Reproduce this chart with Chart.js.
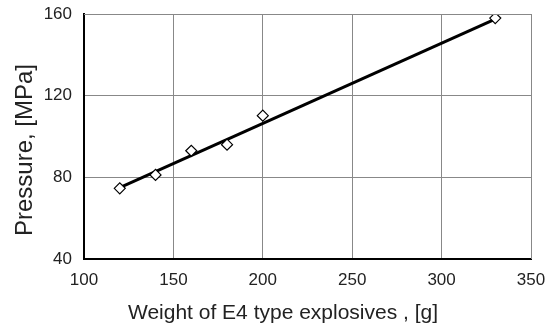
<!DOCTYPE html>
<html>
<head>
<meta charset="utf-8">
<script src="https://cdn.jsdelivr.net/npm/chart.js@4"></script>
<style>
  html, body { margin: 0; padding: 0; background: #fff; }
  #wrap { width: 545px; height: 329px; }
</style>
</head>
<body>
<div id="wrap"><canvas id="chart" width="545" height="329"></canvas></div>
<script>
// measured points (weight in g, pressure in MPa)
const weights = [120, 140, 160, 180, 200, 330];
const pressures = [74.6, 81.2, 93, 96, 110.2, 158];

// linear trend line end points
const trendX = [120, 330];
const trendY = [75, 157.5];

const xTicks = [100, 150, 200, 250, 300, 350];
const yTicks = [40, 80, 120, 160];

const xTitle = 'Weight of E4 type explosives , [g]';
const yTitle = 'Pressure, [MPa]';

const font = "'Liberation Sans', Arial, sans-serif";

const ctx = document.getElementById('chart').getContext('2d');
const chart = new Chart(ctx, {
    type: 'scatter',
    data: {
        datasets: [{
            label: 'Trend',
            data: trendX.map((x, i) => ({ x: x, y: trendY[i] })),
            showLine: true,
            borderColor: '#000',
            borderWidth: 3,
            pointRadius: 0,
            order: 2
        }, {
            label: 'Measured',
            data: weights.map((x, i) => ({ x: x, y: pressures[i] })),
            pointStyle: 'rectRot',
            pointRadius: 5.5,
            pointBackgroundColor: '#fff',
            pointBorderColor: '#000',
            pointBorderWidth: 1.2,
            showLine: false,
            order: 1
        }]
    },
    options: {
        responsive: false,
        animation: false,
        layout: { padding: { top: 14, right: 0, left: 0, bottom: 0 } },
        plugins: { legend: { display: false }, tooltip: { enabled: false } },
        scales: {
            x: {
                type: 'linear',
                min: 100,
                max: 350,
                afterBuildTicks: s => { s.ticks = xTicks.map(v => ({ value: v })); },
                afterFit: s => { s.height = 70; s.paddingRight = 14; s.paddingLeft = 0; },
                grid: { color: '#888', lineWidth: 1, drawTicks: false },
                border: { color: '#000', width: 2 },
                ticks: { color: '#222', font: { family: font, size: 17 }, padding: 11 }
            },
            y: {
                min: 40,
                max: 160,
                afterBuildTicks: s => { s.ticks = yTicks.map(v => ({ value: v })); },
                afterFit: s => { s.width = 84; s.paddingTop = 0; s.paddingBottom = 0; },
                grid: { color: '#888', lineWidth: 1, drawTicks: false },
                border: { color: '#000', width: 2 },
                ticks: { color: '#222', font: { family: font, size: 17 }, padding: 12 }
            }
        }
    },
    plugins: [{
        id: 'frame',
        afterDraw(c) {
            const a = c.chartArea, g = c.ctx;
            g.save();
            g.strokeStyle = '#888';
            g.lineWidth = 1;
            g.beginPath();
            g.moveTo(a.left, a.top + 0.5);
            g.lineTo(a.right + 0.5, a.top + 0.5);
            g.lineTo(a.right + 0.5, a.bottom);
            g.stroke();
            // axis titles, placed as in the figure (slightly off the plot centre)
            g.fillStyle = '#222';
            g.textAlign = 'center';
            g.textBaseline = 'alphabetic';
            g.font = '21px ' + font;
            g.fillText(xTitle, 283, 319);
            g.font = '24px ' + font;
            g.translate(32, 150);
            g.rotate(-Math.PI / 2);
            g.fillText(yTitle, 0, 0);
            g.restore();
        }
    }]
});
</script>
</body>
</html>
